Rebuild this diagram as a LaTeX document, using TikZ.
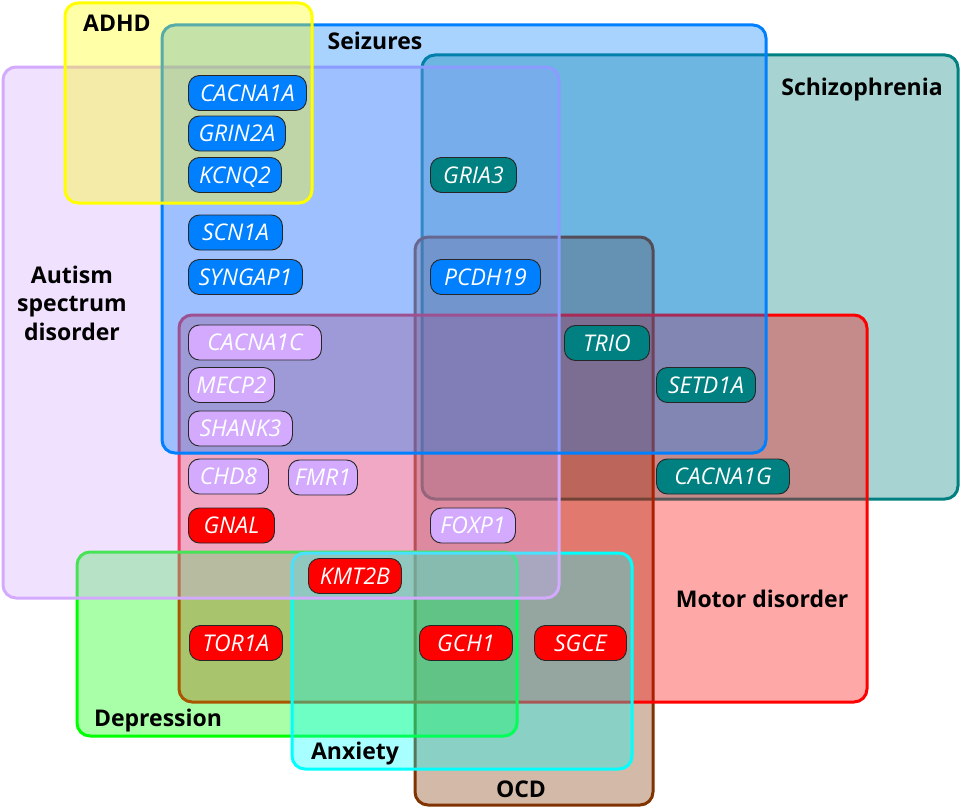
\documentclass[tikz,border=0pt]{standalone}
\usepackage{fontspec}
\setmainfont{Open Sans}
\definecolor{asdC}{HTML}{D4AAFF}
\definecolor{adhdC}{HTML}{FFFF00}
\definecolor{seizC}{HTML}{0080FF}
\definecolor{schizC}{HTML}{008080}
\definecolor{ocdC}{HTML}{803300}
\definecolor{motorC}{HTML}{FF0000}
\definecolor{depC}{HTML}{00FF00}
\definecolor{anxC}{HTML}{00FFFF}
\begin{document}
\begin{tikzpicture}[x=1pt,y=-1pt,
  setbox/.style={draw=#1, fill=#1, fill opacity=0.34, line width=3pt, rounded corners=13pt},
  gene/.style={draw=black!85, line width=0.9pt, fill=#1, rounded corners=11pt, text=white,
    font=\fontsize{23}{27}\selectfont\itshape, minimum height=35pt, inner sep=0pt,
    text height=16.5pt, text depth=0pt, anchor=west},
  settitle/.style={font=\fontsize{23}{28.5}\selectfont\bfseries, text=black, inner sep=0pt, align=center, anchor=base}]
\fill[white] (0,0) rectangle (960,808);
\useasboundingbox (0,0) rectangle (960,808);
% sets, back to front
\draw[setbox=schizC] (422,55) rectangle (958,499);
\draw[setbox=ocdC] (415,237) rectangle (653,805);
\draw[setbox=motorC] (179,315) rectangle (867,702);
\draw[setbox=depC] (77,552) rectangle (517,736);
\draw[setbox=anxC] (292,553) rectangle (632,769);
\draw[setbox=asdC] (3,67) rectangle (559,598);
\draw[setbox=seizC] (162,25) rectangle (766,453);
\draw[setbox=adhdC] (65,3) rectangle (312,203);
% set titles
\node[settitle] (tadhd) at (117,32) {ADHD};
\node[settitle] (tseiz) at (375,49) {Seizures};
\node[settitle] (tschiz) at (862,95) {Schizophrenia};
\node[settitle, anchor=north] (tasd) at (72,265.5) {Autism\\spectrum\\disorder};
\node[settitle] (tmotor) at (762,607) {Motor disorder};
\node[settitle] (tdep) at (158,726) {Depression};
\node[settitle] (tanx) at (355,759) {Anxiety};
\node[settitle] (tocd) at (521,797) {OCD};
% genes: seizures
\node[gene=seizC, minimum width=118pt] (cacna1a) at (188,93) {CACNA1A};
\node[gene=seizC, minimum width=97pt] (grin2a) at (188,133.5) {GRIN2A};
\node[gene=seizC, minimum width=93pt] (kcnq2) at (188,175) {KCNQ2};
\node[gene=seizC, minimum width=94pt] (scn1a) at (188,232.5) {SCN1A};
\node[gene=seizC, minimum width=114pt] (syngap1) at (188,277) {SYNGAP1};
\node[gene=seizC, minimum width=110pt] (pcdh19) at (430,277) {PCDH19};
% genes: schizophrenia
\node[gene=schizC, minimum width=86pt] (gria3) at (430,175) {GRIA3};
\node[gene=schizC, minimum width=85pt] (trio) at (564,343) {TRIO};
\node[gene=schizC, minimum width=99pt] (setd1a) at (656,385) {SETD1A};
\node[gene=schizC, minimum width=133pt] (cacna1g) at (656,476.5) {CACNA1G};
% genes: autism
\node[gene=asdC, minimum width=133pt] (cacna1c) at (188,342.5) {CACNA1C};
\node[gene=asdC, minimum width=86pt] (mecp2) at (188,385) {MECP2};
\node[gene=asdC, minimum width=104pt] (shank3) at (188,428.5) {SHANK3};
\node[gene=asdC, minimum width=80pt] (chd8) at (188,476.5) {CHD8};
\node[gene=asdC, minimum width=69pt] (fmr1) at (288,477.5) {FMR1};
\node[gene=asdC, minimum width=85pt] (foxp1) at (430,525.5) {FOXP1};
% genes: motor
\node[gene=motorC, minimum width=86pt] (gnal) at (188,525.5) {GNAL};
\node[gene=motorC, minimum width=93pt] (kmt2b) at (308,576) {KMT2B};
\node[gene=motorC, minimum width=93pt] (tor1a) at (189,643) {TOR1A};
\node[gene=motorC, minimum width=93pt] (gch1) at (419,643) {GCH1};
\node[gene=motorC, minimum width=92pt] (sgce) at (534,643) {SGCE};
\end{tikzpicture}
\end{document}
